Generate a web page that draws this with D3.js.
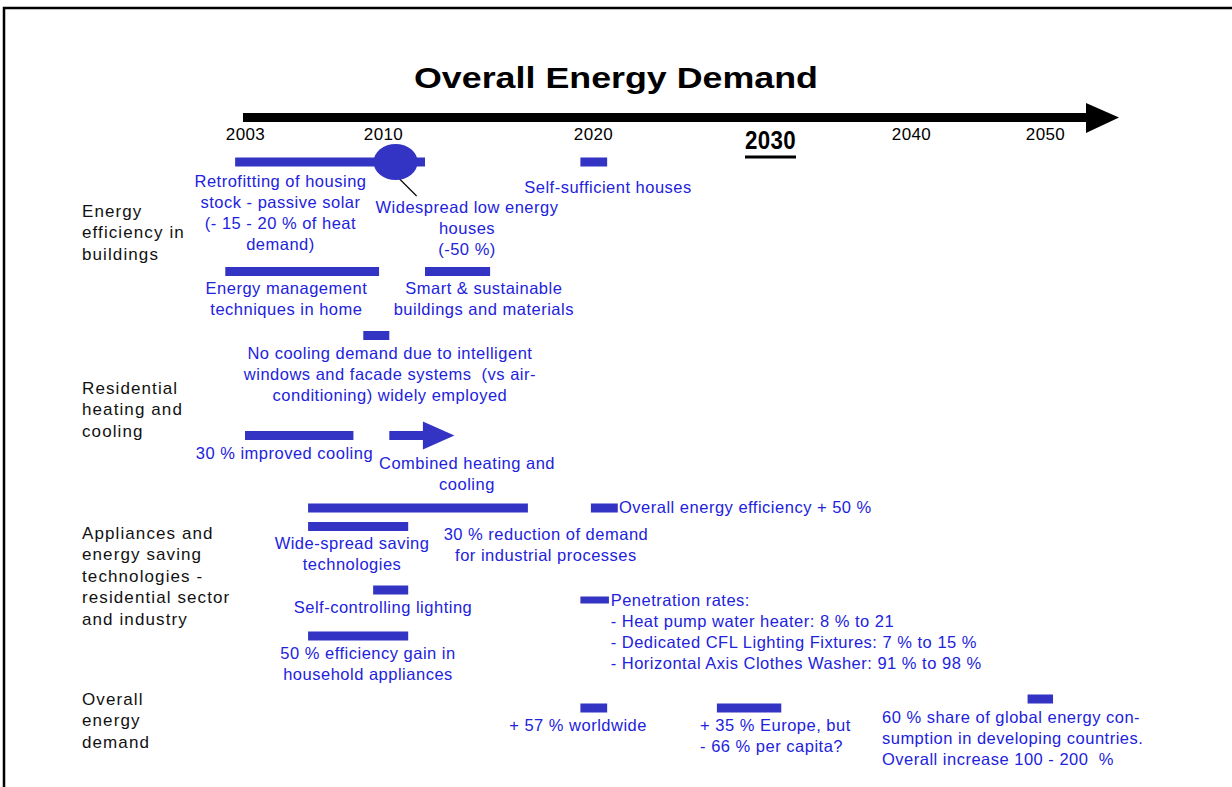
<!DOCTYPE html>
<html>
<head>
<meta charset="utf-8">
<title>Overall Energy Demand</title>
<script src="https://d3js.org/d3.v7.min.js"></script>
<style>
  body { margin: 0; background: #fff; }
  text { font-family: "Liberation Sans", Arial, sans-serif; white-space: pre; }
</style>
</head>
<body>
<div id="chart"></div>
<script>
// timeline years shown on the arrow
var years = [2003, 2010, 2020, 2030, 2040, 2050];

// row categories (left column)
var rowLabels = [
  ["Energy", "efficiency in", "buildings"],
  ["Residential", "heating and", "cooling"],
  ["Appliances and", "energy saving", "technologies -", "residential sector", "and industry"],
  ["Overall", "energy", "demand"]
];

// bars: start year, end year, lane
var barNames = ["Retrofitting", "Self-sufficient", "Energy management", "Smart buildings",
  "No cooling demand", "Improved cooling", "Industrial demand", "Overall efficiency",
  "Saving technologies", "Self-controlling lighting", "Appliance efficiency",
  "Penetration rates", "Worldwide", "Europe", "Developing countries"];
var barStart = [2002.5, 2019.4, 2002, 2012, 2009, 2003, 2006.2, 2019.9, 2006.2, 2009.5, 2006.2, 2019.4, 2019.4, 2027, 2048.7];
var barEnd   = [2012, 2020.8, 2009.8, 2015.1, 2010.3, 2008.5, 2016.9, 2021.4, 2011.2, 2011.2, 2011.2, 2020.9, 2020.8, 2030.8, 2050.6];
var barLane  = ["a", "a", "b", "b", "c", "d", "e", "e", "f", "g", "h", "p", "i", "i", "j"];

// milestone ellipse and arrow (years)
var milestoneYear = 2010.6;
var arrowStart = 2010.3, arrowNeck = 2011.9, arrowEnd = 2013.4;

// annotations
var notes = [
  {lines: ["Retrofitting of housing", "stock - passive solar", "(- 15 - 20 % of heat", "demand)"], year: 2004.8, y: 181},
  {lines: ["Widespread low energy", "houses", "(-50 %)"], year: 2014.0, y: 207},
  {lines: ["Self-sufficient houses"], year: 2020.85, y: 187},
  {lines: ["Energy management", "techniques in home"], year: 2005.1, y: 288},
  {lines: ["Smart & sustainable", "buildings and materials"], year: 2014.8, y: 288},
  {lines: ["No cooling demand due to intelligent", "windows and facade systems  (vs air-", "conditioning) widely employed"], year: 2010.33, y: 353},
  {lines: ["30 % improved cooling"], year: 2005.0, y: 453},
  {lines: ["Combined heating and", "cooling"], year: 2014.0, y: 463},
  {lines: ["Overall energy efficiency + 50 %"], year: 2021.47, y: 507, anchor: "start"},
  {lines: ["Wide-spread saving", "technologies"], year: 2008.43, y: 543},
  {lines: ["30 % reduction of demand", "for industrial processes"], year: 2017.76, y: 534},
  {lines: ["Self-controlling lighting"], year: 2010, y: 607},
  {lines: ["50 % efficiency gain in", "household appliances"], year: 2009.24, y: 653},
  {lines: ["Penetration rates:", "- Heat pump water heater: 8 % to 21", "- Dedicated CFL Lighting Fixtures: 7 % to 15 %", "- Horizontal Axis Clothes Washer: 91 % to 98 %"], year: 2021.0, y: 600, anchor: "start"},
  {lines: ["+ 57 % worldwide"], year: 2019.29, y: 725},
  {lines: ["+ 35 % Europe, but", "- 66 % per capita?"], year: 2026.05, y: 725, anchor: "start"},
  {lines: ["60 % share of global energy con-", "sumption in developing countries.", "Overall increase 100 - 200  %"], year: 2037.94, y: 717, anchor: "start"}
];

var width = 1232, height = 787;
var blue = "#3333c4", textBlue = "#2222dd";

var svg = d3.select("#chart").append("svg")
  .attr("width", width).attr("height", height);

// frame
svg.append("path")
  .attr("d", "M4," + height + "V8H" + width)
  .attr("fill", "none").attr("stroke", "#000").attr("stroke-width", 2.5);

// title
svg.append("text")
  .attr("x", 616).attr("y", 88)
  .attr("text-anchor", "middle")
  .attr("font-size", 30).attr("font-weight", "bold")
  .attr("textLength", 404).attr("lengthAdjust", "spacingAndGlyphs")
  .text("Overall Energy Demand");

// uneven time scale, as drawn in the original
var x = d3.scaleLinear().domain(years).range([245, 383, 593, 770, 911, 1045]);

var lane = d3.scaleOrdinal()
  .domain(["a", "b", "c", "d", "e", "f", "g", "p", "h", "i", "j"])
  .range([162, 271.5, 335.5, 435.5, 508, 526.5, 590, 600, 636, 708, 699]);

// arrow shaft + head
svg.append("rect")
  .attr("x", 243).attr("y", 113).attr("width", 1088 - 243).attr("height", 9)
  .attr("fill", "#000");
svg.append("path")
  .attr("d", "M1086,103L1119,117.5L1086,133Z")
  .attr("fill", "#000");

// year labels via axis
var axis = svg.append("g")
  .attr("transform", "translate(0,126)")
  .call(d3.axisBottom(x).tickValues(years).tickSize(0).tickPadding(0).tickFormat(d3.format("d")));
axis.select(".domain").remove();
axis.selectAll("text")
  .attr("font-size", 17).attr("fill", "#000")
  .attr("font-family", "Liberation Sans, Arial, sans-serif")
  .attr("letter-spacing", 0.4)
  .attr("dy", "0.8em");
axis.selectAll(".tick").filter(function(d) { return d === 2030; }).select("text")
  .attr("font-size", 26).attr("font-weight", "bold")
  .attr("textLength", 51).attr("lengthAdjust", "spacingAndGlyphs")
  .attr("dy", "0.75em").attr("y", 3);
svg.append("rect")
  .attr("x", x(2030) - 25).attr("y", 155.5).attr("width", 51).attr("height", 3)
  .attr("fill", "#000");

// row labels
rowLabels.forEach(function(lines, i) {
  var top = [211, 388, 533, 699][i];
  var t = svg.append("text").attr("font-size", 17).attr("fill", "#111")
    .attr("letter-spacing", 1.1);
  lines.forEach(function(s, j) {
    t.append("tspan").attr("x", 82).attr("y", top + j * 21.5).attr("dy", "0.35em").text(s);
  });
});

// bars
var bars = barNames.map(function(n, i) {
  return {name: n, start: barStart[i], end: barEnd[i], lane: barLane[i]};
});
svg.append("g").selectAll("rect").data(bars).enter().append("rect")
  .attr("x", function(d) { return x(d.start); })
  .attr("width", function(d) { return x(d.end) - x(d.start); })
  .attr("y", function(d) { return lane(d.lane) - (d.lane === "p" ? 3.5 : 4.5); })
  .attr("height", function(d) { return d.lane === "p" ? 7 : 9; })
  .attr("fill", blue);

// milestone ellipse with leader line
svg.append("line")
  .attr("x1", x(milestoneYear) + 3).attr("y1", lane("a") + 16)
  .attr("x2", x(milestoneYear) + 21).attr("y2", lane("a") + 34)
  .attr("stroke", "#000").attr("stroke-width", 1.2);
svg.append("ellipse")
  .attr("cx", x(milestoneYear)).attr("cy", lane("a"))
  .attr("rx", 22).attr("ry", 18)
  .attr("fill", blue);

// combined heating & cooling arrow
var ay = lane("d");
svg.append("path")
  .attr("d", "M" + x(arrowStart) + "," + (ay - 4.5) + "H" + x(arrowNeck) + "V" + (ay - 14) +
    "L" + x(arrowEnd) + "," + ay + "L" + x(arrowNeck) + "," + (ay + 14) + "V" + (ay + 4.5) +
    "H" + x(arrowStart) + "Z")
  .attr("fill", blue);

// annotations
notes.forEach(function(n) {
  var t = svg.append("text").attr("font-size", 16.5).attr("fill", textBlue)
    .attr("letter-spacing", 0.5)
    .attr("text-anchor", n.anchor || "middle");
  n.lines.forEach(function(s, j) {
    t.append("tspan").attr("x", x(n.year)).attr("y", n.y + j * 21)
      .attr("dy", "0.35em").text(s);
  });
});
</script>
</body>
</html>
